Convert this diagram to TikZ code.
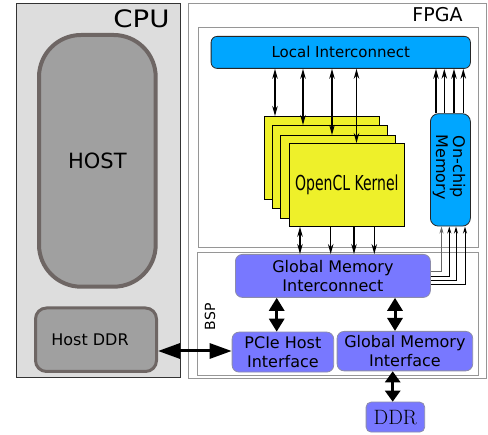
\documentclass[tikz,border=0pt]{standalone}
\usepackage[no-math]{fontspec}
\setmainfont{DejaVu Sans}
\usetikzlibrary{arrows.meta}
\definecolor{cpugray}{RGB}{221,221,221}
\definecolor{hostfill}{RGB}{160,160,160}
\definecolor{hostline}{RGB}{110,102,100}
\definecolor{liblue}{RGB}{0,166,255}
\definecolor{kyellow}{RGB}{238,240,42}
\definecolor{lav}{RGB}{120,120,255}
\definecolor{framegray}{RGB}{150,150,150}
\definecolor{lavline}{RGB}{140,140,170}
\newcommand{\fs}[1]{\fontsize{#1}{#1}\selectfont}
\begin{document}
\begin{tikzpicture}[x=1pt,y=-1pt,
  box/.style={anchor=north west,inner sep=0pt,align=center,font=\fs{16}},
  frameb/.style={box,draw=framegray,line width=1.2pt,fill=white},
  kern/.style={box,draw=black,line width=0.8pt,fill=kyellow,minimum width=115pt,minimum height=83pt},
  bluebox/.style={box,draw=black!85,line width=0.8pt,fill=liblue,rounded corners=6pt},
  lavbox/.style={box,draw=lavline,line width=0.8pt,fill=lav,rounded corners=7pt},
  sarrow/.style={line width=1.2pt,-{Stealth[length=10pt,width=5.5pt]}},
  darrow/.style={line width=1.2pt,{Stealth[length=10pt,width=5.5pt]}-{Stealth[length=10pt,width=5.5pt]}},
  larrow/.style={line width=1pt,-{Stealth[length=7pt,width=4pt]}},
  bigh/.style={line width=3pt,{Triangle[length=22pt,width=15pt]}-{Triangle[length=22pt,width=15pt]}},
  bigv/.style={line width=3pt,{Triangle[length=13pt,width=15pt]}-{Triangle[length=13pt,width=15pt]}},
  bigs/.style={line width=3pt,{Triangle[length=11pt,width=15pt]}-{Triangle[length=11pt,width=15pt]}}
]
\useasboundingbox (0,0) rectangle (488,435);

% CPU side
\node[box,draw=black!80,line width=0.8pt,fill=cpugray,minimum width=164.6pt,minimum height=373.7pt] (cpu) at (15.7,3.3) {};
\node[font=\fs{24},inner sep=0pt] (cpulbl) at (141.5,18.5) {\scalebox{1.15}[1]{CPU}};
\node[box,draw=hostline,line width=4pt,fill=hostfill,rounded corners=42pt,minimum width=116.7pt,minimum height=251.7pt,font=\fs{21}] (host) at (37,33) {HOST};
\node[box,draw=hostline,line width=3pt,fill=hostfill,rounded corners=11pt,minimum width=121pt,minimum height=63.5pt] (hostddr) at (34,306.5) {Host DDR\hspace*{12pt}};

% FPGA side
\node[frameb,minimum width=298.3pt,minimum height=375pt] (fpga) at (187.7,3.3) {};
\node[font=\fs{19},inner sep=0pt] (fpgalbl) at (437.5,15) {FPGA};
\node[frameb,minimum width=280.3pt,minimum height=220pt] (karea) at (197.7,26.7) {};
\node[frameb,minimum width=281.3pt,minimum height=122.7pt] (bsp) at (196.7,252.3) {};
\node[font=\fs{14},inner sep=0pt,rotate=90] (bsplbl) at (210,316.7) {BSP};

\node[bluebox,minimum width=259.3pt,minimum height=32pt,font=\fs{15}] (li) at (210.7,36) {Local Interconnect};

\node[kern] (k1) at (264,116) {};
\node[kern] (k2) at (271.7,125) {};
\node[kern] (k3) at (280,135) {};
\node[kern] (k4) at (289,143) {\fs{20.6}\scalebox{0.68}[1]{OpenCL Kernel}};

\node[bluebox,rounded corners=8pt,minimum width=40pt,minimum height=112.4pt] (onchip) at (430,113.3) {};
\node[rotate=-90,align=center,font=\fs{16},inner sep=0pt] (onchiplbl) at (449,167) {On-chip\\[1pt]Memory};

\node[lavbox,minimum width=195pt,minimum height=43pt] (gmi) at (235,254) {Global Memory\\[3pt]Interconnect};
\node[lavbox,minimum width=101.6pt,minimum height=40pt] (pcie) at (231.7,331.7) {PCIe Host\\[3pt]Interface};
\node[lavbox,minimum width=135.6pt,minimum height=39.5pt] (gmif) at (336.7,331) {Global Memory\\[3pt]Interface};
\node[lavbox,rounded corners=5pt,minimum width=58.6pt,minimum height=30pt] (ddr) at (365.7,401.7) {\fontsize{20}{20}\selectfont$\mathrm{DDR}$};

% arrows local interconnect <-> kernels
\coordinate (u1) at (275,0);
\coordinate (u2) at (303,0);
\coordinate (u3) at (332,0);
\coordinate (u4) at (356.5,0);
\draw[darrow] (li.south -| u1) -- (k1.north -| u1);
\draw[darrow] (li.south -| u2) -- (k2.north -| u2);
\draw[darrow] (li.south -| u3) -- (k3.north -| u3);
\draw[darrow] (li.south -| u4) -- (k4.north -| u4);

% kernels -> global memory interconnect
\coordinate (d1) at (300,0);
\coordinate (d2) at (330.7,0);
\coordinate (d3) at (354,0);
\coordinate (d4) at (374.3,0);
\draw[darrow] (k4.south -| d1) -- (gmi.north -| d1);
\draw[sarrow] (k4.south -| d2) -- (gmi.north -| d2);
\draw[sarrow] (k4.south -| d3) -- (gmi.north -| d3);
\draw[sarrow] (k4.south -| d4) -- (gmi.north -| d4);

% on-chip memory -> local interconnect
\coordinate (o1) at (436,0);
\coordinate (o2) at (444.3,0);
\coordinate (o3) at (454,0);
\coordinate (o4) at (463.3,0);
\draw[sarrow] (onchip.north -| o1) -- (li.south -| o1);
\draw[sarrow] (onchip.north -| o2) -- (li.south -| o2);
\draw[sarrow] (onchip.north -| o3) -- (li.south -| o3);
\draw[sarrow] (onchip.north -| o4) -- (li.south -| o4);

% global memory interconnect -> on-chip memory
\coordinate (c1) at (441.5,271.7);
\coordinate (c2) at (449.3,277);
\coordinate (c3) at (456,281);
\coordinate (c4) at (465,284.5);
\draw[larrow,draw=black!60,line width=0.7pt] (gmi.east |- c1) -| (onchip.south -| c1);
\draw[larrow] (gmi.east |- c2) -| (onchip.south -| c2);
\draw[larrow] (gmi.east |- c3) -| (onchip.south -| c3);
\draw[larrow] (gmi.east |- c4) -| (onchip.south -| c4);

% thick arrows
\coordinate (p1) at (276.7,0);
\coordinate (p2) at (395,0);
\coordinate (p3) at (392.7,0);
\coordinate (h1) at (0,351);
\draw[bigv] (gmi.south -| p1) -- (pcie.north -| p1);
\draw[bigv] (gmi.south -| p2) -- (gmif.north -| p2);
\draw[bigs] (gmif.south -| p3) -- (ddr.north -| p3);
\draw[bigh] (hostddr.east |- h1) -- (pcie.west |- h1);
\end{tikzpicture}
\end{document}
